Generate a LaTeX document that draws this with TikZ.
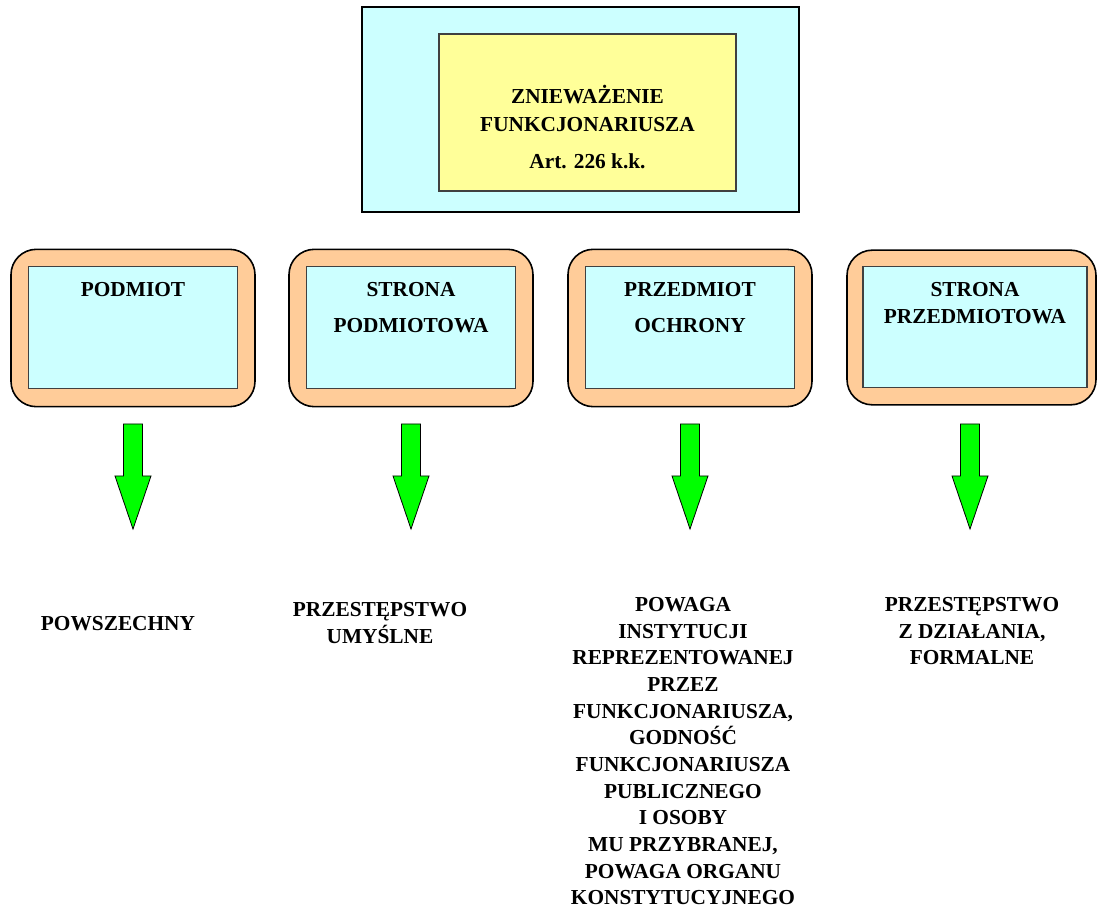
\documentclass[tikz,border=0pt]{standalone}
\usepackage{fontspec}
\setmainfont{Liberation Serif}
\usetikzlibrary{positioning}
\definecolor{cyanbg}{HTML}{CCFFFF}
\definecolor{yellowbg}{HTML}{FFFF99}
\definecolor{orangebg}{HTML}{FFCC99}
\definecolor{green}{HTML}{00FF00}
\definecolor{edge}{HTML}{404040}
\tikzset{
  outer/.style={draw=black, fill=cyanbg, line width=0.9pt},
  title/.style={draw=edge, fill=yellowbg, line width=0.8pt},
  frame/.style={draw=black, fill=orangebg, line width=1.2pt, rounded corners=19pt,
    minimum width=183pt, minimum height=118pt, inner sep=0pt},
  panel/.style={draw=edge, fill=cyanbg, line width=0.8pt,
    minimum width=157pt, minimum height=91pt, inner sep=0pt},
  lab/.style={font=\bfseries\fontsize{16}{20}\selectfont, align=center, inner sep=0pt},
  down/.style={draw=black, fill=green, line width=0.6pt, line join=miter},
}
\begin{document}
\begin{tikzpicture}[x=0.75pt, y=-0.75pt]
  \useasboundingbox (0,0) rectangle (1097,916);
  % top
  \node[outer, minimum width=327.75pt, minimum height=153.75pt, inner sep=0pt] (crime) at (580.5,109.5) {};
  \node[title, minimum width=222.75pt, minimum height=117.75pt, inner sep=0pt] (art) at (587.5,112.5) {};
  \node[lab, anchor=north] (name) at (587.5,85) {ZNIEWAŻENIE\\[1pt]FUNKCJONARIUSZA\\[8pt]Art. 226 k.k.};
  % four elements
  \foreach \i/\x/\txt in {1/133/PODMIOT, 2/411/{STRONA\\[7pt]PODMIOTOWA},
      3/690/{PRZEDMIOT\\[7pt]OCHRONY}} {
    \node[frame] (frame\i) at (\x,328) {};
    \node[panel] (panel\i) at (\x,327.5) {};
    \node[lab, anchor=north] (elem\i) at (\x,282) {\txt};
    \draw[down] (\x-9.5,424) -- (\x+9.5,424) -- (\x+9.5,476) -- (\x+18,476)
      -- (\x,529) -- (\x-18,476) -- (\x-9.5,476) -- cycle;
  }
  \node[frame, minimum width=186.75pt, minimum height=116pt] (frame4) at (971.5,327.5) {};
  \node[panel, minimum width=168pt] (panel4) at (975,327) {};
  \node[lab, anchor=north] (elem4) at (975,282) {STRONA\\PRZEDMIOTOWA};
  \draw[down] (960.5,424) -- (979.5,424) -- (979.5,476) -- (988,476)
    -- (970,529) -- (952,476) -- (960.5,476) -- cycle;
  % answers
  \node[lab, anchor=north] (ans1) at (118,616) {POWSZECHNY};
  \node[lab, anchor=north] (ans2) at (380,602) {PRZESTĘPSTWO\\UMYŚLNE};
  \node[lab, anchor=north] (ans3) at (683,597) {POWAGA\\INSTYTUCJI\\REPREZENTOWANEJ\\PRZEZ\\FUNKCJONARIUSZA,\\GODNOŚĆ\\FUNKCJONARIUSZA\\PUBLICZNEGO\\I OSOBY\\MU PRZYBRANEJ,\\POWAGA ORGANU\\KONSTYTUCYJNEGO};
  \node[lab, anchor=north] (ans4) at (972,597) {PRZESTĘPSTWO\\Z DZIAŁANIA,\\FORMALNE};
\end{tikzpicture}
\end{document}
